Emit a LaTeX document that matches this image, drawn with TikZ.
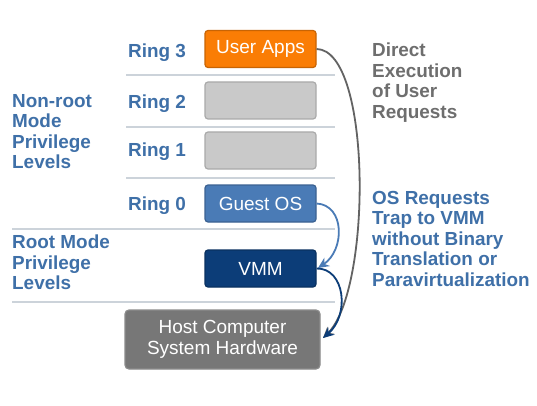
\documentclass[tikz,border=0pt]{standalone}
\usepackage{fontspec}
\setmainfont{Liberation Sans}
\usetikzlibrary{arrows.meta}
\definecolor{ringblue}{HTML}{3F70A8}
\definecolor{txtgray}{HTML}{6E6E6E}
\definecolor{uorange}{HTML}{FA7D05}
\definecolor{emptyfill}{HTML}{C9C9C9}
\definecolor{emptydraw}{HTML}{AAAAAA}
\definecolor{guestblue}{HTML}{4A7BB6}
\definecolor{vmmnavy}{HTML}{0C3D78}
\definecolor{hostgray}{HTML}{777777}
\definecolor{sepline}{HTML}{CCD3DA}
\tikzset{
  lbl/.style={font=\fontsize{18.9}{20.5}\selectfont\bfseries, text=ringblue, inner sep=0pt, align=left},
  rtxt/.style={font=\fontsize{18.9}{20.5}\selectfont\bfseries, inner sep=0pt, align=left, anchor=north west},
  ringbox/.style={draw=#1!80!black, line width=1.2pt, rounded corners=3pt, minimum width=111pt, minimum height=37pt, inner sep=0pt, text=white, font=\fontsize{19}{21}\selectfont},
  sep/.style={draw=sepline, line width=2pt},
  arr/.style={line width=1.8pt, -{Stealth[length=11pt,width=10pt]}}
}
\begin{document}
\begin{tikzpicture}[x=1pt,y=-1pt]
\useasboundingbox (0,0) rectangle (537,406);
\fill[white] (0,0) rectangle (537,406);
% separators
\draw[sep] (126,75) -- (335,75);
\draw[sep] (126,127) -- (335,127);
\draw[sep] (126,178) -- (335,178);
\draw[sep] (12,229) -- (335,229);
\draw[sep] (12,302) -- (335,302);
% boxes
\node[ringbox=uorange, fill=uorange] (ua) at (260.5,49) {User Apps};
\node[ringbox=emptyfill, fill=emptyfill, draw=emptydraw] (r2) at (260.5,100.5) {};
\node[ringbox=emptyfill, fill=emptyfill, draw=emptydraw] (r1) at (260.5,150.5) {};
\node[ringbox=guestblue, fill=guestblue] (gos) at (260.5,203.5) {Guest OS};
\node[ringbox=vmmnavy, fill=vmmnavy] (vmm) at (260.5,268.5) {VMM};
\node[draw=hostgray!85!white, fill=hostgray, line width=1.2pt, rounded corners=4pt, minimum width=195pt, minimum height=59pt, inner sep=0pt, text=white, font=\fontsize{19}{21}\selectfont, align=center] (host) at (222.5,339.5) {Host Computer\\System Hardware};
% ring labels
\node[lbl, anchor=base west] (l3) at (128,58) {Ring 3};
\node[lbl, anchor=base west] (l2) at (128,109) {Ring 2};
\node[lbl, anchor=base west] (l1) at (128,157) {Ring 1};
\node[lbl, anchor=base west] (l0) at (128,210) {Ring 0};
% left labels
\node[lbl, anchor=north west] (nonroot) at (12,94) {Non-root\\Mode\\Privilege\\Levels};
\node[lbl, anchor=north west] (root) at (12,235) {Root Mode\\Privilege\\Levels};
% right texts
\node[rtxt, text=txtgray] (direct) at (372,43) {Direct\\Execution\\of User\\Requests};
\node[rtxt, text=ringblue] (osreq) at (372,191) {OS Requests\\Trap to VMM\\without Binary\\Translation or\\Paravirtualization};
% arrows
\coordinate (hostin) at (323,338);
\coordinate (vmmin) at (318,268);
\draw[arr, draw=txtgray!90!black] (ua.east) .. controls (372,50) and (372,290) .. (hostin);
\draw[arr, draw=guestblue] (gos.east) .. controls (345,205) and (345,250) .. (vmmin);
\draw[arr, draw=vmmnavy] (vmm.east) .. controls (345,268) and (350,315) .. (hostin);
\end{tikzpicture}
\end{document}
